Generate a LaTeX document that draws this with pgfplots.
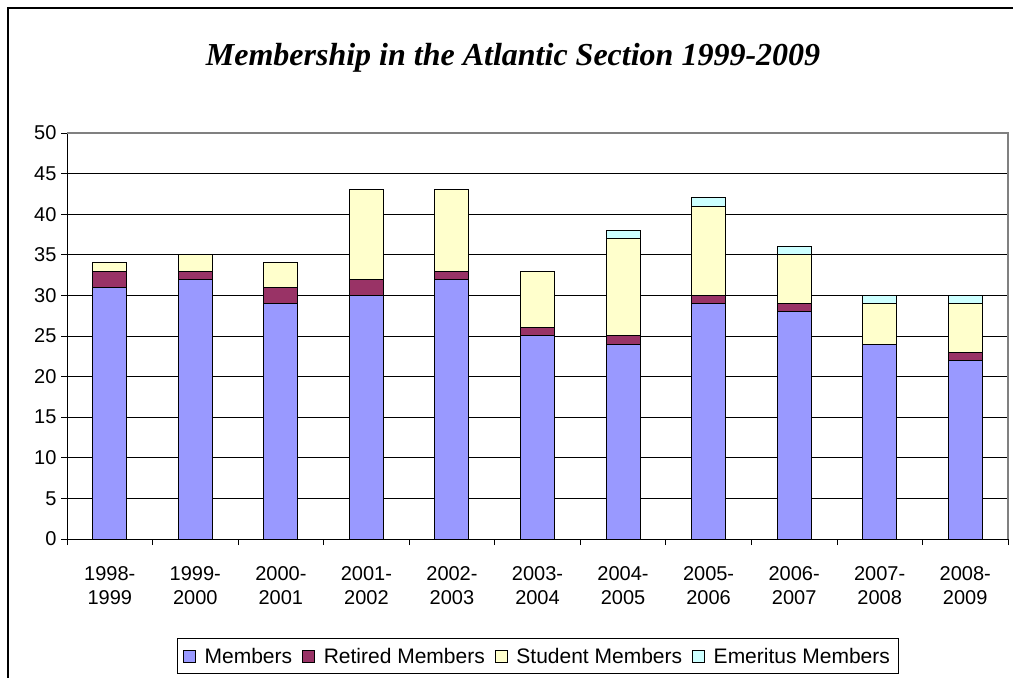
\documentclass[border=0pt]{standalone}
\usepackage{pgfplots}
\pgfplotsset{compat=1.18}
\usepackage{fontspec}
\setmainfont{Liberation Sans}
\newfontfamily\titlefont{Liberation Serif}
\definecolor{cMem}{HTML}{9999FF}
\definecolor{cRet}{HTML}{993366}
\definecolor{cStu}{HTML}{FFFFCC}
\definecolor{cEme}{HTML}{CCFFFF}
\begin{document}
\begin{tikzpicture}[x=1pt,y=1pt]
\useasboundingbox (0,0) rectangle (1013,678);
\draw[line width=1.5pt] (8,-10) -- (8,670) -- (1030,670);
\node[font=\titlefont\bfseries\itshape\fontsize{32}{36}\selectfont] at (513,620) {Membership in the Atlantic Section 1999-2009};
\begin{axis}[
  at={(67pt,139pt)}, anchor=south west,
  scale only axis, width=941pt, height=406pt,
  ybar stacked, bar width=34pt,
  xmin=-0.5, xmax=10.5, ymin=0, ymax=50,
  ytick={0,5,...,50},
  xtick={-0.5,0.5,...,10.5},
  xticklabels={},
  extra x ticks={0,...,10},
  extra x tick labels={{1998-\\1999},{1999-\\2000},{2000-\\2001},{2001-\\2002},{2002-\\2003},{2003-\\2004},{2004-\\2005},{2005-\\2006},{2006-\\2007},{2007-\\2008},{2008-\\2009}},
  extra x tick style={major tick length=0pt, grid=none, xticklabel style={align=center, font=\fontsize{20}{24}\selectfont, yshift=-24pt}},
  yticklabel style={font=\fontsize{20}{22}\selectfont, xshift=-1pt},
  /pgf/number format/assume math mode=true,
  ymajorgrids, major grid style={black, line width=0.8pt},
  tick align=outside, major tick length=6pt,
  tick style={black, line width=0.8pt},
  separate axis lines,
  x axis line style={black, line width=0.8pt},
  y axis line style={black, line width=0.8pt},
  axis x line*=bottom, axis y line*=left,
  legend style={at={(0.5,-0.245)}, anchor=north, legend columns=4, draw=black, line width=0.8pt, font=\fontsize{21}{23}\selectfont, inner xsep=6pt, inner ysep=7pt, /tikz/every even column/.append style={column sep=8pt}, /tikz/every odd column/.append style={column sep=7pt}},
  legend image code/.code={\draw[#1, line width=0.6pt] (0pt,-6pt) rectangle (12pt,6pt);},
  clip=false,
]
\addplot[fill=cMem, draw=black, line width=1pt] coordinates {(0,31)(1,32)(2,29)(3,30)(4,32)(5,25)(6,24)(7,29)(8,28)(9,24)(10,22)};
\addplot[fill=cRet, draw=black, line width=1pt] coordinates {(0,2)(1,1)(2,2)(3,2)(4,1)(5,1)(6,1)(7,1)(8,1)(9,0)(10,1)};
\addplot[fill=cStu, draw=black, line width=1pt] coordinates {(0,1)(1,2)(2,3)(3,11)(4,10)(5,7)(6,12)(7,11)(8,6)(9,5)(10,6)};
\addplot[fill=cEme, draw=black, line width=1pt] coordinates {(0,0)(1,0)(2,0)(3,0)(4,0)(5,0)(6,1)(7,1)(8,1)(9,1)(10,1)};
\legend{Members,Retired Members,Student Members,Emeritus Members}
\draw[gray, line width=1.2pt] (rel axis cs:0,1) -- (rel axis cs:1,1) -- (rel axis cs:1,0);
\end{axis}
\end{tikzpicture}
\end{document}
